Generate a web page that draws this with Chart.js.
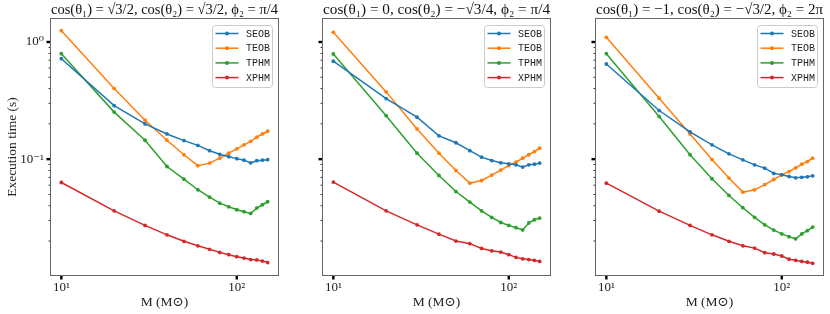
<!DOCTYPE html>
<html><head><meta charset="utf-8">
<script src="https://cdn.jsdelivr.net/npm/chart.js@4.4.1/dist/chart.umd.min.js"></script>
<style>
html,body{margin:0;padding:0;background:#fff;}
#wrap{position:relative;width:830px;height:314px;overflow:hidden;}
canvas{position:absolute;left:0;top:0;}
</style></head><body>
<div id="wrap">
<canvas id="c0" width="830" height="314"></canvas>
<canvas id="c1" width="830" height="314"></canvas>
<canvas id="c2" width="830" height="314"></canvas>
</div>
<script>
// ---------- data ----------
const masses = [10, 20, 30, 40, 50, 60, 70, 80, 90, 100, 110, 120, 130, 140, 150];
const seriesNames = ['SEOB', 'TEOB', 'TPHM', 'XPHM'];
const seriesColors = ['#1f77b4', '#ff7f0e', '#2ca02c', '#d62728'];
const panelTitles = [
  'cos(θ₁) = √3/2, cos(θ₂) = √3/2, ϕ₂ = π/4',
  'cos(θ₁) = 0, cos(θ₂) = −√3/4, ϕ₂ = π/4',
  'cos(θ₁) = −1, cos(θ₂) = −√3/2, ϕ₂ = 2π'
];
const yTitle = 'Execution time (s)';
const xTitle = 'M (M⊙)';

// panel 1
const seobA = [0.72, 0.286, 0.200, 0.164, 0.144, 0.131, 0.118, 0.110, 0.105, 0.101, 0.098, 0.093, 0.097, 0.098, 0.099];
const teobA = [1.25, 0.40, 0.215, 0.145, 0.109, 0.088, 0.0925, 0.102, 0.1125, 0.1225, 0.1325, 0.142, 0.154, 0.164, 0.173];
const tphmA = [0.795, 0.252, 0.145, 0.0865, 0.0675, 0.0548, 0.0474, 0.0421, 0.0392, 0.0370, 0.0356, 0.0344, 0.0382, 0.0408, 0.0433];
const xphmA = [0.0632, 0.0362, 0.0272, 0.0226, 0.0199, 0.0182, 0.0170, 0.0160, 0.0153, 0.0147, 0.0143, 0.0139, 0.0138, 0.0135, 0.0131];
// panel 2
const seobB = [0.685, 0.329, 0.228, 0.158, 0.138, 0.118, 0.104, 0.0973, 0.093, 0.0912, 0.0894, 0.0855, 0.0894, 0.0906, 0.0925];
const teobB = [1.21, 0.375, 0.181, 0.1125, 0.080, 0.0624, 0.0657, 0.0731, 0.0806, 0.0882, 0.0942, 0.102, 0.109, 0.116, 0.124];
const tphmB = [0.79, 0.235, 0.1125, 0.0725, 0.0529, 0.0430, 0.0362, 0.0318, 0.0288, 0.0272, 0.0260, 0.0249, 0.0285, 0.0304, 0.0314];
const xphmB = [0.0637, 0.0362, 0.0275, 0.0229, 0.0200, 0.0190, 0.0173, 0.0165, 0.0161, 0.0153, 0.0145, 0.0141, 0.0139, 0.0137, 0.0134];
// panel 3
const seobC = [0.649, 0.260, 0.171, 0.1324, 0.111, 0.0986, 0.0894, 0.0838, 0.0756, 0.0735, 0.0711, 0.0693, 0.0700, 0.0707, 0.0721];
const teobC = [1.096, 0.331, 0.164, 0.0992, 0.0689, 0.0523, 0.0547, 0.0607, 0.0670, 0.0735, 0.0784, 0.0843, 0.0906, 0.0954, 0.102];
const tphmC = [0.795, 0.231, 0.109, 0.068, 0.049, 0.0385, 0.0318, 0.0275, 0.0248, 0.0230, 0.0218, 0.0209, 0.0230, 0.0245, 0.0263];
const xphmC = [0.0624, 0.036, 0.0272, 0.0226, 0.0199, 0.0182, 0.0174, 0.0159, 0.0155, 0.0149, 0.0140, 0.0137, 0.0134, 0.0132, 0.0129];

const panelSeries = [[seobA, teobA, tphmA, xphmA], [seobB, teobB, tphmB, xphmB], [seobC, teobC, tphmC, xphmC]];

// ticks
const xTickValues = [10, 100];
const xTickLabels = ['10¹', '10²'];
const yTickValues = [0.1, 1];
const yTickLabels = ['10⁻¹', '10⁰'];
const yMinorTicks = [0.02, 0.03, 0.04, 0.05, 0.06, 0.07, 0.08, 0.09, 0.2, 0.3, 0.4, 0.5, 0.6, 0.7, 0.8, 0.9];

// ---------- layout ----------
const plotLeft = [51, 323, 596];
const plotWidth = 227;
const xMin = 8.73, xMax = 171.8, yMin = 0.01026, yMax = 1.571;
const SERIF = '"Liberation Serif", "DejaVu Serif", serif';
const MONO = '"Liberation Mono", "DejaVu Sans Mono", monospace';

const frameTicks = {
  id: 'frameTicks',
  afterDraw(chart) {
    const {ctx, chartArea: a, scales: {x, y}} = chart;
    ctx.save();
    ctx.fillStyle = '#000';
    y.ticks.forEach(t => {
      const py = y.getPixelForValue(t.value);
      if (t.major) ctx.fillRect(a.left - 4.5, py - 1.2, 4.5, 2.4);
      else ctx.fillRect(a.left - 2.5, py - 0.4, 2.5, 0.8);
    });
    x.ticks.forEach(t => {
      const px = x.getPixelForValue(t.value);
      if (t.major) ctx.fillRect(px - 1.2, a.bottom, 2.4, 4.5);
      else ctx.fillRect(px - 0.4, a.bottom, 0.8, 2.5);
    });
    ctx.strokeStyle = '#666';
    ctx.lineWidth = 1;
    ctx.strokeRect(Math.round(a.left) - 0.5, Math.round(a.top) - 0.5, Math.round(a.right - a.left) + 1, Math.round(a.bottom - a.top) + 1);
    ctx.restore();
  }
};

const insideLegend = {
  id: 'insideLegend',
  afterDraw(chart) {
    const {ctx, chartArea: a} = chart;
    const w = 60, h = 62;
    const bx = a.right - 6 - w, by = a.top + 6;
    ctx.save();
    ctx.beginPath();
    if (ctx.roundRect) ctx.roundRect(bx + 0.5, by + 0.5, w, h, 3); else ctx.rect(bx + 0.5, by + 0.5, w, h);
    ctx.fillStyle = 'rgba(255,255,255,0.8)';
    ctx.fill();
    ctx.strokeStyle = '#cccccc';
    ctx.lineWidth = 1;
    ctx.stroke();
    chart.data.datasets.forEach((ds, i) => {
      const yy = by + 8.5 + i * 14.7;
      ctx.strokeStyle = ds.borderColor;
      ctx.lineWidth = 1.5;
      ctx.beginPath();
      ctx.moveTo(bx + 3.5, yy);
      ctx.lineTo(bx + 26.5, yy);
      ctx.stroke();
      ctx.fillStyle = ds.borderColor;
      ctx.beginPath();
      ctx.arc(bx + 15, yy, 2, 0, Math.PI * 2);
      ctx.fill();
      ctx.fillStyle = '#222';
      ctx.font = '10px ' + MONO;
      ctx.textBaseline = 'middle';
      ctx.textAlign = 'left';
      ctx.fillText(ds.label, bx + 34, yy + 0.5);
    });
    ctx.restore();
  }
};

function makePanel(p) {
  const datasets = panelSeries[p].map((vals, i) => ({
    label: seriesNames[i],
    data: masses.map((m, k) => ({x: m, y: vals[k]})),
    borderColor: seriesColors[i],
    backgroundColor: seriesColors[i],
    borderWidth: 1.5,
    pointRadius: 1.9,
    pointBorderWidth: 0,
    pointBackgroundColor: seriesColors[i],
    tension: 0,
    fill: false
  }));
  const yAxisWidth = p === 0 ? 51 : 8;
  return new Chart(document.getElementById('c' + p), {
    type: 'line',
    data: {datasets},
    plugins: [frameTicks, insideLegend],
    options: {
      responsive: false,
      animation: false,
      devicePixelRatio: 1,
      events: [],
      layout: {padding: {left: plotLeft[p] - yAxisWidth, right: 830 - plotLeft[p] - plotWidth, top: 0, bottom: 0}},
      plugins: {
        legend: {display: false},
        tooltip: {enabled: false},
        title: {
          display: true,
          text: panelTitles[p],
          fullSize: false,
          color: '#111',
          font: {family: SERIF, size: 15.5, weight: 'normal', lineHeight: 1},
          padding: {top: 2, bottom: 1.5}
        }
      },
      scales: {
        x: {
          type: 'logarithmic',
          position: 'bottom',
          min: xMin, max: xMax,
          grid: {display: false, drawTicks: false},
          border: {display: false},
          afterBuildTicks: s => { s.ticks = xTickValues.map(v => ({value: v, major: true})); },
          afterFit: s => { s.height = 39; },
          ticks: {
            autoSkip: false, maxRotation: 0, padding: 5,
            color: '#222',
            font: {family: SERIF, size: 13},
            callback: (v) => { const i = xTickValues.indexOf(v); return i >= 0 ? xTickLabels[i] : ''; }
          },
          title: {display: true, text: xTitle, color: '#222', font: {family: SERIF, size: 13.5, lineHeight: 1.2}, padding: {top: 0, bottom: 3}}
        },
        y: {
          type: 'logarithmic',
          position: 'left',
          min: yMin, max: yMax,
          grid: {display: false, drawTicks: false},
          border: {display: false},
          afterBuildTicks: s => {
            s.ticks = yMinorTicks.map(v => ({value: v, major: false})).concat(yTickValues.map(v => ({value: v, major: true})));
            s.ticks.sort((a, b) => a.value - b.value);
          },
          afterFit: s => { s.width = yAxisWidth; },
          ticks: {
            display: p === 0,
            autoSkip: false, padding: 7,
            color: '#222',
            font: {family: SERIF, size: 13},
            callback: (v) => { const i = yTickValues.indexOf(v); return i >= 0 ? yTickLabels[i] : ''; }
          },
          title: {display: p === 0, text: yTitle, color: '#222', font: {family: SERIF, size: 13.5, lineHeight: 1.2}, padding: {top: 4, bottom: 0}}
        }
      }
    }
  });
}
[0, 1, 2].forEach(makePanel);
</script>
</body></html>
